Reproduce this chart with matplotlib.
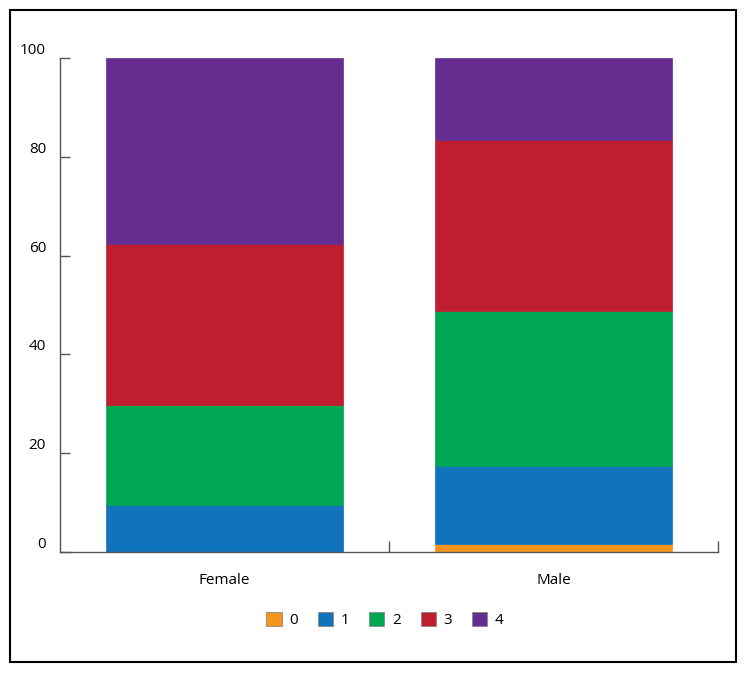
import matplotlib
matplotlib.use("Agg")
import matplotlib.pyplot as plt
import numpy as np
from matplotlib.patches import Rectangle, Patch

plt.rcParams['font.family'] = ['Open Sans', 'DejaVu Sans']

# values (percent of each group)
groups = ['Female', 'Male']
levels = ['0', '1', '2', '3', '4']
shares = {
    '0': [0.0, 1.6],
    '1': [9.5, 15.8],
    '2': [20.3, 31.4],
    '3': [32.5, 34.6],
    '4': [37.7, 16.6],
}
colors = ['#F7941D', '#1173BB', '#00A651', '#BE1E2D', '#662D91']
yticks = [0, 20, 40, 60, 80, 100]

fig = plt.figure(figsize=(7.45, 6.73), dpi=100)
ax = fig.add_axes([60/745, 1 - 552/673, 658/745, 494/673])

x = np.arange(len(groups))
bottom = np.zeros(len(groups))
for lev, col in zip(levels, colors):
    vals = np.array(shares[lev])
    ax.bar(x, vals, width=0.72, bottom=bottom, color=col, edgecolor=col,
           linewidth=0.5)
    bottom += vals

ax.set_xlim(-0.5, 1.5)
ax.set_ylim(0, 100)
for s in ['top', 'right']:
    ax.spines[s].set_visible(False)
for s in ['left', 'bottom']:
    ax.spines[s].set_color('#555555')
    ax.spines[s].set_linewidth(1.0)

ax.set_yticks(yticks)
ax.set_yticklabels([str(t) for t in yticks])
ax.tick_params(axis='y', direction='in', length=7, width=1, color='#555555',
               labelsize=11, pad=10)
for lab in ax.get_yticklabels():
    lab.set_va('bottom')

ax.set_xticks(x)
ax.set_xticklabels(groups)
ax.tick_params(axis='x', which='major', length=0, labelsize=11, pad=15)
ax.set_xticks([0.5, 1.5], minor=True)
ax.tick_params(axis='x', which='minor', direction='in', length=8, width=1,
               color='#555555')

handles = [Patch(facecolor=c, edgecolor='#888888', linewidth=0.6, label=l)
           for l, c in zip(levels, colors)]
fig.legend(handles=handles, loc='center', bbox_to_anchor=(385/745, 1 - 620/673),
           ncol=5, frameon=False, fontsize=11, handlelength=1.0, handleheight=1.0,
           handletextpad=0.5, columnspacing=1.3)

fig.add_artist(Rectangle((10/745, 1 - 662/673), 726/745, 652/673,
                         transform=fig.transFigure, fill=False,
                         edgecolor='black', linewidth=1.5))

fig.savefig('out.png', dpi=100)
